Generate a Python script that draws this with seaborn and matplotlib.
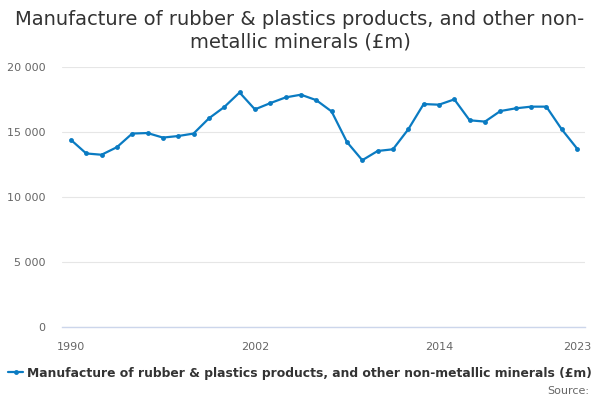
import matplotlib
matplotlib.use("Agg")
import matplotlib.pyplot as plt
import seaborn as sns
import pandas as pd

years = list(range(1990, 2024))
values = [14400, 13350, 13250, 13830, 14880, 14920, 14570, 14690, 14880, 16050,
          16920, 18040, 16740, 17220, 17660, 17870, 17450, 16580, 14230, 12830,
          13540, 13670, 15210, 17150, 17100, 17510, 15900, 15800, 16610, 16820,
          16950, 16950, 15210, 13730]
series_name = "Manufacture of rubber & plastics products, and other non-metallic minerals (£m)"
title = "Manufacture of rubber & plastics products, and other non-\nmetallic minerals (£m)"
yticks = [0, 5000, 10000, 15000, 20000]
ytick_labels = ["0", "5 000", "10 000", "15 000", "20 000"]
xtick_pos = list(range(1990, 2024, 3))
xtick_labels = ["1990", "", "", "", "2002", "", "", "", "2014", "", "", "2023"]

df = pd.DataFrame({"year": years, "value": values, "series": series_name})

sns.set_style("white")
plt.rcParams['font.family'] = ['DejaVu Sans']

fig = plt.figure(figsize=(6, 4), dpi=100)
ax = fig.add_axes([0.103, 0.1825, 0.872, 0.65])

sns.lineplot(data=df, x="year", y="value", hue="series", palette=["#0a7bc2"],
             marker="o", markersize=3.5, markeredgewidth=0, linewidth=1.6, ax=ax)

ax.set_xlim(1989.41, 2023.52)
ax.set_ylim(0, 20000)
ax.set_yticks(yticks)
ax.set_yticklabels(ytick_labels)
ax.set_xticks(xtick_pos)
ax.set_xticklabels(xtick_labels)
ax.set_xlabel("")
ax.set_ylabel("")
ax.grid(axis="y", color="#e6e6e6", linewidth=0.8)
ax.set_axisbelow(True)
for s in ["top", "right", "left"]:
    ax.spines[s].set_visible(False)
ax.spines["bottom"].set_color("#ccd6eb")
ax.spines["bottom"].set_linewidth(1)
ax.tick_params(axis="y", length=0, labelsize=8, labelcolor="#666666", pad=12)
ax.tick_params(axis="x", length=10, width=1, color="#ccd6eb", labelsize=8,
               labelcolor="#666666", pad=1, direction="out")

fig.suptitle(title, x=0.5, y=0.975, fontsize=14, color="#333333", va="top",
             linespacing=1.2)

handles, labels = ax.get_legend_handles_labels()
ax.get_legend().remove()
leg = fig.legend(handles, labels, loc="center", bbox_to_anchor=(0.5, 0.067),
                 frameon=False, handlelength=1.2, handletextpad=0.3,
                 prop={"size": 8.9, "weight": "bold"})
for t in leg.get_texts():
    t.set_color("#333333")

fig.text(0.982, 0.022, "Source:", ha="right", va="center", fontsize=8,
         color="#666666")

fig.savefig("out.png", dpi=100)
